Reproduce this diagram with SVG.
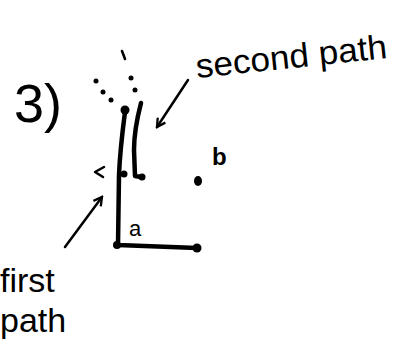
<svg xmlns="http://www.w3.org/2000/svg" width="409" height="349" viewBox="0 0 409 349">
<style>
.t{font-family:"Liberation Sans","DejaVu Sans",sans-serif;fill:#000}
.ln{fill:none;stroke:#000;stroke-width:4.5;stroke-linecap:round;stroke-linejoin:round}
.th{fill:none;stroke:#000;stroke-width:2.5;stroke-linecap:round;stroke-linejoin:round}
.dot{fill:#000}
</style>
<defs>
<marker id="ah" viewBox="0 0 12 12" refX="10" refY="6" markerWidth="11" markerHeight="11" markerUnits="userSpaceOnUse" orient="auto"><path d="M1,1 L10,6 L1,11" fill="none" stroke="#000" stroke-width="2.5"/></marker>
</defs>
<rect width="409" height="349" fill="#fff"/>
<text class="t" x="14" y="122" font-size="54">3)</text>
<g id="ellipsis">
<circle class="dot" cx="96" cy="81" r="2.5"/>
<circle class="dot" cx="103" cy="92" r="2.5"/>
<circle class="dot" cx="111" cy="100" r="2.5"/>
<path class="th" d="M122,51 L125,59"/>
<circle class="dot" cx="131" cy="78" r="2.5"/>
<circle class="dot" cx="135" cy="90" r="2.5"/>
</g>
<g id="connectors">
<path class="ln" d="M125,112 Q120,150 119,175 L118,245 L197,248"/>
<path class="ln" d="M141,103 Q134,130 134,150 L135,176 L141,177"/>
<path class="th" d="M65,247 L102,197" marker-end="url(#ah)"/>
<path class="th" d="M188,80 L157,127" marker-end="url(#ah)"/>
</g>
<g id="node-top"><circle class="dot" cx="125" cy="110" r="4.5"/></g>
<g id="node-mid"><circle class="dot" cx="124" cy="174" r="3.5"/></g>
<g id="node-mid2"><circle class="dot" cx="142" cy="177" r="3.5"/></g>
<g id="node-a"><circle class="dot" cx="117" cy="245" r="4"/><text class="t" x="129" y="236" font-size="22">a</text></g>
<g id="node-end"><circle class="dot" cx="197" cy="248" r="4.5"/></g>
<g id="node-b"><ellipse class="dot" cx="198" cy="181" rx="4" ry="5"/><text class="t" x="212" y="165" font-size="24" font-weight="bold">b</text></g>
<path class="th" d="M104,167 L95,172 L103,177"/>
<text class="t" x="197" y="78" font-size="34" textLength="192" lengthAdjust="spacingAndGlyphs" transform="rotate(-6 197 78)">second path</text>
<text class="t" x="0" y="292" font-size="34">first</text>
<text class="t" x="0" y="332" font-size="34">path</text>
</svg>
